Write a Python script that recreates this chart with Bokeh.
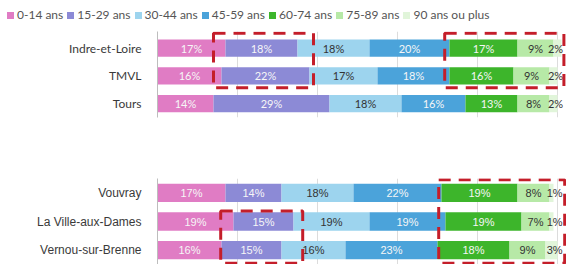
from bokeh.plotting import figure
from bokeh.models import ColumnDataSource, Range1d, FixedTicker, Div
from bokeh.layouts import column
from bokeh.embed import file_html
from bokeh.resources import INLINE
from bokeh.core.properties import value

age_groups = ["0-14 ans", "15-29 ans", "30-44 ans", "45-59 ans", "60-74 ans", "75-89 ans", "90 ans ou plus"]
colors = ["#e07cc4", "#8c8ad6", "#9dd4ee", "#4ba3da", "#3db52b", "#b7e9a7", "#e1f5da"]
label_colors = ["#f6f6f6", "#f6f6f6", "#333333", "#f6f6f6", "#f6f6f6", "#333333", "#333333"]

# Top chart
top_areas = ["Indre-et-Loire", "TMVL", "Tours"]
top_0_14 = [17, 16, 14]
top_15_29 = [18, 22, 29]
top_30_44 = [18, 17, 18]
top_45_59 = [20, 18, 16]
top_60_74 = [17, 16, 13]
top_75_89 = [9, 9, 8]
top_90p = [2, 2, 2]

# Bottom chart
bot_areas = ["Vouvray", "La Ville-aux-Dames", "Vernou-sur-Brenne"]
bot_0_14 = [17, 19, 16]
bot_15_29 = [14, 15, 15]
bot_30_44 = [18, 19, 16]
bot_45_59 = [22, 19, 23]
bot_60_74 = [19, 19, 18]
bot_75_89 = [8, 7, 9]
bot_90p = [1, 1, 3]

# highlight boxes (left, right, top, bottom) in data units
top_boxes_left = [14.0, 71.8]
top_boxes_right = [39.0, 101.6]
top_boxes_top = [-0.54, -0.54]
top_boxes_bottom = [1.43, 1.43]

bot_boxes_left = [15.8, 70.3]
bot_boxes_right = [36.3, 101.8]
bot_boxes_top = [0.63, -0.46]
bot_boxes_bottom = [2.46, 2.46]

ticks = [0, 20, 40, 60, 80, 100]
keys = ["a0", "a1", "a2", "a3", "a4", "a5", "a6"]
W = 566


def make_chart(areas, series, y_start, y_end, height, border_top, border_bottom, font,
               bar_h, boxes, label_font_size):
    data = {"y": list(range(len(areas)))}
    for k, s in zip(keys, series):
        data[k] = s
    src = ColumnDataSource(data)
    p = figure(width=W, height=height, output_backend="svg", toolbar_location=None,
               x_range=Range1d(0, 102.25), y_range=Range1d(y_start, y_end),
               min_border_left=157, min_border_right=0, min_border_top=border_top,
               min_border_bottom=border_bottom)
    rs = p.hbar_stack(keys, y="y", height=bar_h, color=colors, source=src, line_width=0)
    xs, ys, ts, cs = [], [], [], []
    n = len(series)
    for i in range(len(areas)):
        cum = 0
        for j, s in enumerate(series):
            v = s[i]
            x = cum + v / 2
            if j == n - 1:
                x = min(x + 0.8, 99.5)
            xs.append(x)
            ys.append(i)
            ts.append(f"{v}%")
            cs.append(label_colors[j])
            cum += v
    lsrc = ColumnDataSource(dict(x=xs, y=ys, t=ts, c=cs))
    p.text(x="x", y="y", text="t", text_color="c", text_align="center", text_baseline="middle",
           text_font=value(font), text_font_size="11px", source=lsrc)
    l, r, t, b = boxes
    p.quad(left=l, right=r, top=t, bottom=b, fill_alpha=0, line_color="#c41e2a",
           line_width=3, line_dash="12 8")
    p.outline_line_color = None
    p.xgrid.ticker = FixedTicker(ticks=ticks)
    p.xgrid.grid_line_color = "#dcdcdc"
    p.ygrid.visible = False
    p.xaxis.visible = False
    p.yaxis.ticker = FixedTicker(ticks=list(range(len(areas))))
    p.yaxis.major_label_overrides = {i: a for i, a in enumerate(areas)}
    p.yaxis.major_tick_line_color = None
    p.yaxis.minor_tick_line_color = None
    p.yaxis.axis_line_color = "#bdbdbd"
    p.yaxis.major_label_standoff = 10
    p.yaxis.major_label_text_font = font
    p.yaxis.major_label_text_font_size = label_font_size
    p.yaxis.major_label_text_color = "#3a3a3a"
    return p, rs


top_series = [top_0_14, top_15_29, top_30_44, top_45_59, top_60_74, top_75_89, top_90p]
bot_series = [bot_0_14, bot_15_29, bot_30_44, bot_45_59, bot_60_74, bot_75_89, bot_90p]

# legend as an HTML strip built from the series names and colours
items_html = "".join(
    f'<span style="display:inline-block;margin-right:4px;">'
    f'<span style="display:inline-block;width:7px;height:7px;background:{c};'
    f'margin-right:3px;vertical-align:0px;"></span>{g}</span>'
    for g, c in zip(age_groups, colors)
)
legend_div = Div(
    text=f'<div style="position:relative;left:7px;font-family:Lato,sans-serif;font-size:12px;'
         f'color:#555555;white-space:nowrap;padding-top:8px;line-height:14px;">{items_html}</div>',
    width=W, height=24, margin=(0, 0, 0, 0))

p1, rs1 = make_chart(top_areas, top_series, 2.5, -0.6, 101, 7, 8, "Lato", 0.62,
                     (top_boxes_left, top_boxes_right, top_boxes_top, top_boxes_bottom),
                     "12px")
p2, rs2 = make_chart(bot_areas, bot_series, 2.5, -0.5, 139, 53, 0, "Liberation Sans", 0.64,
                     (bot_boxes_left, bot_boxes_right, bot_boxes_top, bot_boxes_bottom),
                     "12px")

layout = column(legend_div, p1, p2, spacing=0)
open("out.html", "w").write(file_html(layout, INLINE))
